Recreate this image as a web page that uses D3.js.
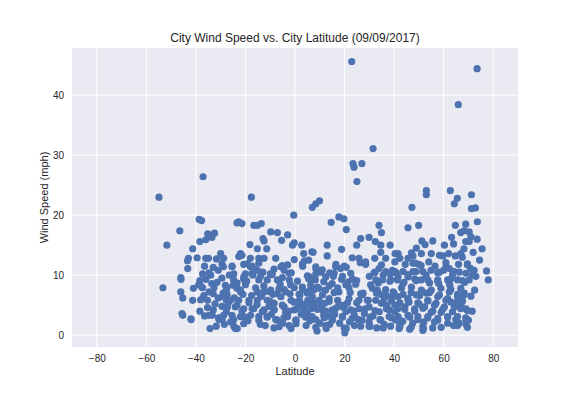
<!DOCTYPE html>
<html>
<head>
<meta charset="utf-8">
<script src="https://d3js.org/d3.v7.min.js"></script>
<style>
  body { margin: 0; background: white; }
  text { font-family: "Liberation Sans", Arial, sans-serif; fill: #262626; }
</style>
</head>
<body>
<svg id="chart" width="576" height="396"></svg>
<script>
// [latitude, wind speed (mph)], by latitude band
var southCities = [
  [-54.9,23.0],[-37.1,26.4],[-38.7,19.3],[-37.7,19.1],[-46.5,17.4],[-51.7,15.0],[-41.3,14.4],[-38.4,15.6],
  [-35.2,16.9],[-33.8,16.6],[-32.5,17.0],[-33.5,16.3],[-36.0,15.9],[-43.0,12.8],[-43.4,12.4],[-43.3,11.1],
  [-36.0,12.8],[-34.9,12.8],[-31.7,12.7],[-30.0,13.6],[-28.9,11.4],[-33.0,11.3],[-37.3,10.2],[-34.7,10.4],
  [-34.0,10.0],[-46.1,9.6],[-46.0,9.3],[-53.3,7.9],[-38.4,9.1],[-38.9,8.4],[-41.0,7.8],[-37.3,7.9],[-37.8,8.1],
  [-46.1,7.2],[-45.3,6.2],[-41.3,5.8],[-38.1,5.9],[-35.3,5.8],[-34.7,7.2],[-33.6,8.6],[-32.7,7.9],[-33.0,6.9],
  [-35.3,4.6],[-38.4,4.0],[-45.6,3.6],[-45.3,3.3],[-42.0,2.7],[-34.7,3.3],[-33.4,3.3],[-30.7,2.7],[-30.0,2.9],
  [-34.3,1.1],[-32.3,5.2],[-27.7,7.6],[-27.7,5.8],[-27.3,4.7],[-27.7,3.9],[-41.9,2.6],[-30.6,2.6],[-29.4,2.6],
  [-36.5,11.5],[-31.0,10.8],[-29.5,9.5],[-31.5,8.8],[-36.0,9.3],[-29.0,7.0],[-31.0,6.2],[-36.8,6.6],
  [-29.5,4.8],[-33.0,4.2],[-36.5,3.2],[-28.5,1.8],[-31.8,1.5],[-39.5,12.9]
];
var tropicSouthCities = [
  [-17.6,23.0],[-22.7,18.9],[-21.4,18.6],[-23.4,18.7],[-16.6,18.3],[-15.2,18.3],[-13.6,18.6],[-0.5,20.0],
  [-9.8,17.2],[-7.1,17.1],[-3.0,16.7],[-12.9,16.1],[-12.5,15.7],[-5.4,15.8],[-0.3,15.4],[-1.0,15.0],[2.7,15.0],
  [-18.2,15.1],[-15.2,14.4],[-11.4,14.4],[6.8,13.9],[-7.8,12.8],[3.5,13.6],[-22.0,13.6],[-21.4,13.3],[-22.7,13.1],
  [-0.3,12.6],[-18.0,12.8],[-14.6,12.8],[-12.5,12.8],[3.8,12.4],[-28.8,12.8],[-25.4,11.5],[-19.3,11.9],[-18.0,11.4],
  [-16.3,11.0],[-15.2,10.8],[-5.7,11.4],[-4.4,10.8],[-3.0,11.7],[3.1,11.5],[5.8,9.7],[6.2,9.2],[-24.8,9.2],
  [-20.7,9.3],[-23.4,8.7],[-14.6,9.2],[-11.2,9.2],[-7.1,9.2],[-2.3,9.2],[-27.5,7.9],[-23.4,7.9],[-22.0,7.5],
  [-15.2,7.2],[-12.5,7.2],[-9.8,7.5],[-4.4,7.6],[-0.3,7.9],[3.1,7.6],[-28.8,6.4],[-26.1,5.8],[-22.7,5.8],
  [-18.6,5.8],[-15.2,5.8],[-11.2,5.8],[-8.4,5.3],[-5.7,6.4],[-1.6,5.8],[1.8,5.8],[5.2,5.8],[-27.5,4.7],
  [-24.1,4.7],[-20.7,4.4],[-16.6,4.4],[-12.5,4.2],[-8.4,4.2],[-4.4,4.7],[-0.3,4.2],[3.8,4.2],[6.5,4.4],
  [-28.8,3.3],[-25.4,3.3],[-22.0,3.1],[-17.9,3.3],[-14.6,3.1],[-11.2,3.1],[-7.1,2.5],[-3.0,3.1],[0.4,2.5],
  [4.5,3.1],[-24.1,1.1],[-20.7,1.9],[-14.0,1.8],[-12.0,1.6],[-6.4,1.4],[-1.6,1.1],[0.4,1.9],[4.5,1.6],
  [-23.3,1.1],[-20.2,3.0],[-20.0,10.2],[-17.0,10.0],[-19.5,9.0],[-13.0,10.5],[-10.0,10.2],[-8.5,11.0],
  [-1.5,10.4],[1.0,9.0],[-26.5,10.0],[-25.0,8.3],[-21.0,6.8],[-17.5,6.6],[-13.5,6.5],[-9.0,6.8],[-6.0,8.5],
  [-2.0,6.9],[2.0,6.7],[5.0,7.0],[-26.0,2.2],[-19.0,2.4],[-9.5,3.5],[-5.0,2.0],[2.5,3.5],[6.0,2.4],
  [-24.5,6.2],[-10.5,4.8],[-2.5,4.0],[1.5,4.9]
];
var tropicNorthCities = [
  [7.0,21.3],[8.4,21.9],[9.9,22.4],[22.9,45.6],[31.5,31.1],[23.4,28.6],[23.8,28.0],[27.0,28.6],[25.0,25.6],
  [17.7,19.7],[19.7,19.4],[14.6,18.8],[20.7,17.6],[33.9,18.3],[34.9,17.1],[26.5,16.1],[29.9,16.3],[24.9,15.0],
  [32.4,15.6],[34.6,15.0],[13.0,15.0],[18.8,14.3],[7.3,13.8],[38.4,15.0],[34.6,13.8],[36.6,12.8],[32.2,12.8],
  [40.4,13.6],[13.0,13.2],[23.1,12.9],[25.8,12.8],[28.5,11.8],[28.5,12.2],[5.5,12.5],[11.0,10.9],[14.0,10.4],
  [16.4,11.4],[18.4,11.1],[20.7,11.3],[31.9,10.4],[33.9,11.1],[36.6,10.6],[39.3,10.8],[22.5,10.3],[23.2,9.4],
  [18.8,9.3],[21.5,8.9],[5.5,9.4],[8.2,9.2],[11.6,8.9],[15.0,8.6],[32.6,9.2],[35.3,9.2],[38.6,9.2],[41.3,9.2],
  [26.5,6.9],[31.2,7.8],[33.2,7.5],[36.6,7.6],[17.7,7.2],[21.8,7.9],[12.3,7.5],[7.0,6.4],[9.7,5.8],[13.8,6.1],
  [17.2,5.8],[21.8,6.1],[25.8,5.8],[29.2,5.8],[32.6,5.8],[36.0,6.1],[39.3,6.4],[7.6,4.7],[11.0,4.2],[15.0,4.2],
  [19.1,4.7],[22.5,4.2],[25.9,4.4],[29.9,4.7],[34.0,3.9],[38.0,4.2],[41.5,4.4],[6.9,3.1],[11.6,3.3],[15.0,2.8],
  [19.1,3.1],[23.1,2.8],[27.1,2.5],[29.9,2.2],[34.6,2.5],[38.0,3.1],[40.6,2.5],[8.9,0.7],[12.6,1.1],[20.1,0.4],
  [20.7,1.1],[26.5,1.5],[29.9,1.5],[38.6,1.5],[42.0,1.1],[9.0,8.0],[12.0,5.3],[16.0,3.5],[24.0,3.3],[28.0,3.6],
  [31.5,3.2],[36.0,1.8],[10.0,2.0],[14.0,1.8],[18.0,2.0],[24.0,1.6],[33.0,1.2],[27.5,7.0],[30.0,9.8],[24.5,8.5],
  [10.5,10.5],[8.5,11.0],[15.5,9.8],[37.0,5.0],[40.0,7.0],[20.0,5.0],[5.8,5.2],[7.5,7.5],[13.5,3.2],[22.0,2.2],
  [30.5,8.4],[34.5,6.8],[38.5,10.2]
];
var northCities = [
  [47.2,21.3],[53.0,24.1],[53.0,23.4],[62.7,24.1],[65.5,22.8],[64.3,21.9],[71.2,23.4],[72.8,21.2],[71.2,21.1],
  [65.9,38.4],[73.5,44.4],[45.6,17.9],[49.9,18.3],[64.7,18.3],[68.9,18.5],[73.6,18.9],[66.9,17.1],[68.2,17.4],
  [70.3,17.2],[71.0,16.4],[70.3,15.6],[68.9,15.6],[63.2,16.3],[64.0,15.2],[60.3,15.0],[51.2,15.7],[52.5,15.1],
  [55.6,15.7],[68.2,14.4],[71.9,13.8],[66.9,13.6],[64.7,13.2],[62.0,13.6],[59.7,13.2],[47.0,13.7],[47.6,13.2],
  [51.0,13.6],[55.0,13.6],[58.3,13.3],[41.6,13.6],[42.3,12.8],[40.3,12.2],[45.6,12.8],[61.0,11.5],[62.3,11.1],
  [69.6,11.9],[70.9,11.1],[72.3,10.8],[69.0,10.3],[77.3,10.7],[78.0,9.2],[64.3,10.6],[65.6,9.2],[61.6,9.2],
  [43.6,10.6],[47.6,10.6],[51.6,10.6],[54.9,10.8],[57.6,10.4],[40.3,10.6],[41.6,9.7],[45.6,9.7],[48.3,9.4],
  [50.9,9.2],[53.6,9.2],[57.6,9.2],[62.9,9.4],[70.3,9.2],[43.0,7.9],[47.0,8.0],[51.0,7.5],[55.0,7.5],[58.9,7.8],
  [62.9,7.6],[66.9,7.8],[41.6,6.4],[45.6,6.1],[49.0,6.7],[53.6,5.8],[57.6,6.4],[61.6,6.1],[65.6,6.4],[68.2,6.7],
  [40.3,5.0],[44.3,4.7],[48.3,4.4],[52.3,4.7],[56.3,5.0],[60.3,4.7],[64.3,4.7],[69.0,4.4],[41.6,3.1],[45.6,3.3],
  [49.6,3.1],[53.6,3.1],[57.6,2.8],[61.6,3.1],[65.6,3.1],[69.0,2.5],[42.3,1.4],[46.3,1.0],[51.6,0.8],[56.3,2.2],
  [61.6,2.0],[66.2,2.0],[69.0,1.8],[51.8,1.1],[70.0,2.5],[44.0,8.8],[46.0,5.5],[50.0,5.2],[52.0,2.2],[55.0,3.8],
  [59.0,3.8],[63.0,5.5],[67.0,5.2],[71.0,6.5],[72.5,7.5],[73.0,9.8],[74.5,12.5],[58.0,8.6],[62.5,8.3],[66.0,11.8],
  [60.0,10.8],[54.0,12.2],[48.5,12.0],[43.5,2.3],[47.5,2.0],[59.0,1.3],[64.0,1.6],[44.5,11.8],[50.0,11.8],
  [67.5,13.0],[73.5,16.0],[75.5,14.4],[68.5,8.8],[71.5,4.0],[53.0,7.0],[49.0,14.5],[56.5,11.5]
];
// extra calm-wind cities in the crowded belt, read from close-ups
var calmSouth = [
  [-29.5,11.9],[-25.4,11.4],[-20.7,11.8],[-17.3,11.5],[-14.6,12.0],[-5.1,11.6],[3.0,11.9],[8.4,11.4],[16.5,11.8],[19.9,11.5],
  [-24.7,10.2],[-20.7,9.7],[-17.3,10.3],[-13.9,9.8],[-9.2,10.1],[-5.1,9.6],[-2.4,10.3],[5.0,9.9],[8.4,10.2],[12.4,9.7],[15.8,10.3],[19.2,9.8],
  [-28.1,8.3],[-23.4,7.8],[-20.0,8.4],[-15.9,7.9],[-12.6,8.2],[-6.5,7.7],[-1.8,8.4],[3.0,8.0],[6.3,8.3],[9.7,7.8],[13.8,8.2],[17.2,7.9],[20.5,8.4],
  [-27.4,6.8],[-22.0,7.2],[-13.9,6.7],[-10.5,7.3],[-7.2,6.9],[-3.8,7.2],[1.6,6.8],[5.7,7.3],[11.1,6.7],[15.8,7.1],
  [-26.8,5.5],[-23.4,5.0],[-18.6,5.4],[-15.3,5.1],[-9.9,5.6],[-5.1,5.0],[-0.4,5.5],[3.6,5.1],[7.7,5.4],[10.4,4.9],[13.8,5.6],[17.8,5.1],[21.2,5.4],
  [-21.4,4.0],[-17.3,4.4],[-13.2,3.9],[-8.5,4.3],[-3.8,3.8],[0.9,4.4],[5.0,3.9],[9.0,4.3],[12.4,4.0],[16.5,4.5],[20.5,3.9],
  [-30.8,2.9],[-24.7,2.6],[-20.7,3.0],[-14.6,2.5],[-11.2,3.0],[-7.8,2.6],[-4.5,2.9],[0.3,2.5],[4.3,3.0],[8.4,2.6],[11.8,2.9],[15.1,2.5],[19.2,3.0],
  [-24.7,1.5],[-8.5,1.2],[-2.4,1.6],[8.4,1.3],[12.4,1.6],[19.9,1.2]
];
var calmNorth = [
  [26.3,12.1],[34.9,11.7],[47.6,12.0],[50.9,11.6],[60.9,12.1],[69.6,11.7],
  [32.3,10.5],[35.6,10.0],[40.9,10.4],[45.6,10.1],[48.9,10.6],[52.9,10.0],[58.3,10.5],[63.6,10.1],[66.3,10.5],[71.6,10.0],
  [24.9,9.1],[33.6,8.7],[38.3,9.0],[43.6,8.6],[48.9,9.1],[54.3,8.7],[57.6,9.0],[62.3,8.6],[67.6,9.1],
  [22.3,7.1],[27.2,6.7],[32.9,7.0],[36.9,6.6],[39.6,7.2],[43.6,6.8],[46.9,7.1],[50.3,6.6],[54.3,7.1],[58.3,6.7],[62.3,7.2],[65.6,6.8],[68.3,7.0],
  [24.9,5.4],[29.6,5.8],[34.9,5.3],[38.9,5.7],[42.3,5.4],[45.6,5.9],[49.6,5.4],[53.6,5.7],[56.9,5.3],[60.9,5.8],[64.9,5.4],[67.6,5.7],
  [23.6,4.0],[28.3,4.4],[32.3,4.1],[36.9,4.4],[40.3,3.9],[44.3,4.3],[48.3,4.0],[51.6,4.5],[55.6,4.0],[59.6,4.3],[63.6,3.9],[66.9,4.4],[69.6,4.1],
  [25.6,2.6],[30.3,3.0],[34.3,2.6],[38.9,2.9],[42.3,2.5],[46.3,3.0],[49.6,2.6],[53.6,2.9],[57.6,2.5],[61.6,3.0],[64.9,2.6],[68.9,2.9],
  [30.3,1.5],[35.6,1.2],[42.3,1.6],[46.9,1.3],[51.6,1.5],[55.6,1.2],[65.6,1.6],[69.6,1.3]
];
var xTicks = [-80, -60, -40, -20, 0, 20, 40, 60, 80];
var yTicks = [0, 10, 20, 30, 40];

var cities = southCities.concat(tropicSouthCities, tropicNorthCities, northCities, calmSouth, calmNorth);

var margin = {top: 48, right: 58, bottom: 49, left: 72},
    width = 576 - margin.left - margin.right,
    height = 396 - margin.top - margin.bottom;

var svg = d3.select("#chart")
  .append("g")
  .attr("transform", "translate(" + margin.left + "," + margin.top + ")");

var x = d3.scaleLinear().domain([-90, 90]).range([0, width]);
var y = d3.scaleLinear().domain([-1.97, 47.85]).range([height, 0]);

// background + grid
svg.append("rect").attr("width", width).attr("height", height).attr("fill", "#EAEAF2");

svg.selectAll(".xgrid").data(xTicks).enter().append("line")
  .attr("x1", d => x(d)).attr("x2", d => x(d))
  .attr("y1", 0).attr("y2", height)
  .attr("stroke", "white").attr("stroke-width", 1);
svg.selectAll(".ygrid").data(yTicks).enter().append("line")
  .attr("y1", d => y(d)).attr("y2", d => y(d))
  .attr("x1", 0).attr("x2", width)
  .attr("stroke", "white").attr("stroke-width", 1);

// axes (labels only, no tick marks or spines)
var xAxis = svg.append("g")
  .attr("transform", "translate(0," + height + ")")
  .call(d3.axisBottom(x).tickValues(xTicks).tickSize(0).tickPadding(8));
var yAxis = svg.append("g")
  .call(d3.axisLeft(y).tickValues(yTicks).tickSize(0).tickPadding(8));
[xAxis, yAxis].forEach(function(a) {
  a.select(".domain").remove();
  a.selectAll("text").attr("font-size", 10).attr("font-family", null).attr("fill", "#262626");
});

// points
svg.selectAll(".dot")
  .data(cities)
  .enter().append("circle")
  .attr("cx", d => x(d[0]))
  .attr("cy", d => y(d[1]))
  .attr("r", 3.6)
  .attr("fill", "#4C72B0");

// titles
svg.append("text")
  .attr("x", width / 2).attr("y", -6)
  .attr("text-anchor", "middle").attr("font-size", 12)
  .text("City Wind Speed vs. City Latitude (09/09/2017)");
svg.append("text")
  .attr("x", width / 2).attr("y", height + 28)
  .attr("text-anchor", "middle").attr("font-size", 11)
  .text("Latitude");
svg.append("text")
  .attr("transform", "rotate(-90)")
  .attr("x", -height / 2).attr("y", -24)
  .attr("text-anchor", "middle").attr("font-size", 11)
  .text("Wind Speed (mph)");
</script>
</body>
</html>
